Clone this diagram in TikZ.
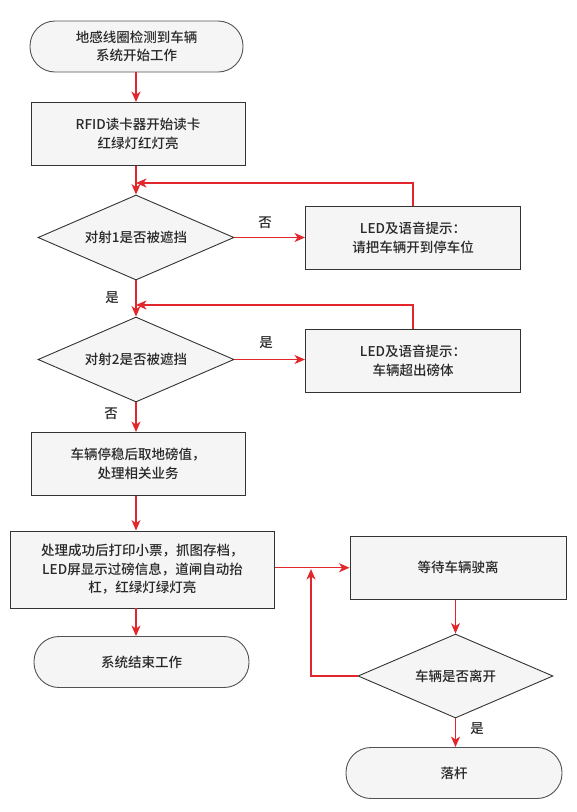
\documentclass[tikz,border=0pt]{standalone}
\usepackage{fontspec}
\setmainfont{Noto Sans CJK SC Medium}
\usetikzlibrary{shapes.geometric,arrows.meta}
\definecolor{flowred}{RGB}{226,38,44}
\definecolor{boxfill}{RGB}{245,245,245}
\definecolor{boxline}{RGB}{51,51,51}
\definecolor{txt}{RGB}{40,40,40}
\tikzset{
  base/.style={draw=boxline, fill=boxfill, line width=0.9pt, align=center, inner sep=0pt,
    font=\fontsize{13.5}{18.5}\selectfont, text=txt},
  term/.style={base, rectangle, rounded corners=25pt, minimum height=51pt, draw=boxline!85},
  proc/.style={base, rectangle, minimum height=63pt},
  dec/.style={base, diamond, aspect=2.3},
  flow/.style={draw=flowred, line width=1.4pt, -{Stealth[length=10.5pt,width=9pt,inset=3pt]}},
  lbl/.style={font=\fontsize{13.5}{15}\selectfont, text=txt, inner sep=0pt}
}
\begin{document}
\begin{tikzpicture}[x=1pt,y=-1pt]
\useasboundingbox (0,0) rectangle (577,812);
% nodes
\node[term, minimum width=213pt] (start) at (136.5,46.5) {地感线圈检测到车辆\\系统开始工作};
\node[proc, minimum width=214pt] (rfid) at (138,134) {RFID读卡器开始读卡\\红绿灯红灯亮};
\node[dec, minimum width=196pt, minimum height=85pt] (d1) at (136,237.5) {对射1是否被遮挡};
\node[proc, minimum width=215pt] (led1) at (413,238) {LED及语音提示：\\请把车辆开到停车位};
\node[dec, minimum width=196pt, minimum height=85pt] (d2) at (136,359.5) {对射2是否被遮挡};
\node[proc, minimum width=215pt] (led2) at (413,360.7) {LED及语音提示：\\车辆超出磅体};
\node[proc, minimum width=214pt] (b3) at (138,464) {车辆停稳后取地磅值，\\处理相关业务};
\node[proc, minimum width=264pt, minimum height=77pt] (b4) at (142.5,569.5) {处理成功后打印小票，抓图存档，\\LED屏显示过磅信息，道闸自动抬\\杠，红绿灯绿灯亮};
\node[proc, minimum width=216pt] (wait) at (458,567.7) {等待车辆驶离};
\node[dec, minimum width=195pt, minimum height=84pt] (d3) at (455.5,676) {车辆是否离开};
\node[term, minimum width=215pt] (end) at (141.5,662) {系统结束工作};
\node[term, minimum width=216pt] (luo) at (454,773) {落杆};
% junction coordinates
\coordinate (j1) at (136,183);
\coordinate (j2) at (136,305);
\coordinate (j3) at (311,569);
% connectors
\draw[flow] (start.south -| d1.north) -- (rfid.north -| d1.north);
\draw[flow] (rfid.south -| d1.north) -- (d1.north);
\draw[flow] (d1.east) -- (d1.east -| led1.west);
\draw[flow] (led1.north) |- (j1);
\draw[flow] (d1.south) -- (d2.north);
\draw[flow] (d2.east) -- (d2.east -| led2.west);
\draw[flow] (led2.north) |- (j2);
\draw[flow] (d2.south) -- (d2.south |- b3.north);
\draw[flow] (b3.south -| d2.south) -- (b4.north -| d2.south);
\draw[flow] (b4.south -| d2.south) -- (end.north -| d2.south);
\draw[flow] (b4.east |- wait.west) -- (wait.west);
\draw[flow] (wait.south -| d3.north) -- (d3.north);
\draw[flow] (d3.west) -| (j3);
\draw[flow] (d3.south) -- (d3.south |- luo.north);
% labels
\node[lbl] (l1) at (265,222.5) {否};
\node[lbl] (l2) at (112,298) {是};
\node[lbl] (l3) at (266,343) {是};
\node[lbl] (l4) at (111,414) {否};
\node[lbl] (l5) at (477,729) {是};
\end{tikzpicture}
\end{document}
